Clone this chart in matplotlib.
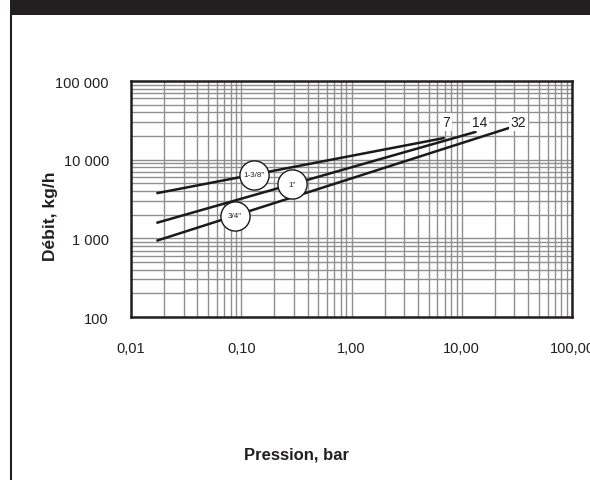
import numpy as np
import matplotlib.pyplot as plt
from matplotlib.patches import Rectangle
from matplotlib.lines import Line2D

plt.rcParams['font.family'] = ['Liberation Sans', 'DejaVu Sans']

# pipe sizes, end points of each line (pressure bar, flow kg/h)
sizes = ['1-3/8"', '1"', '3/4"']
p_start = [0.017, 0.017, 0.017]
p_end = [7.0, 13.6, 31.0]
q_start = [3740, 1570, 930]
q_end = [18900, 22700, 27000]
# label position of the circle on each line (pressure)
p_circle = [0.13, 0.29, 0.088]
end_labels = ['7', '14', '32']
end_label_p = [7.2, 14.5, 32.5]

x_ticks = [0.01, 0.1, 1, 10, 100]
x_tick_labels = ['0,01', '0,10', '1,00', '10,00', '100,00']
y_ticks = [100, 1000, 10000, 100000]
y_tick_labels = ['100', '1 000', '10 000', '100 000']

W, H = 590, 481
fig = plt.figure(figsize=(W / 100, H / 100), dpi=100)
ax = fig.add_axes([131 / W, 1 - 318 / H, (572 - 131) / W, (318 - 82) / H])

ax.set_xscale('log')
ax.set_yscale('log')
ax.set_xlim(0.01, 100)
ax.set_ylim(100, 100000)

ax.grid(True, which='both', color='#8f8f8f', lw=1.0)
ax.set_axisbelow(True)
for s in ax.spines.values():
    s.set_linewidth(1.8)
    s.set_color('#231f20')

ax.set_xticks(x_ticks)
ax.set_xticklabels(x_tick_labels)
ax.set_yticks(y_ticks)
ax.set_yticklabels(y_tick_labels)
ax.tick_params(which='both', length=0, labelsize=10.5, colors='#231f20')
ax.tick_params(axis='x', pad=17)
ax.tick_params(axis='y', pad=16)
for lab in ax.get_xticklabels():
    lab.set_clip_on(False)

for i in range(len(sizes)):
    ax.plot([p_start[i], p_end[i]], [q_start[i], q_end[i]], color='#1a1a1a', lw=1.8,
            solid_capstyle='butt', zorder=3)
    # circle label on the line
    t = (np.log10(p_circle[i]) - np.log10(p_start[i])) / (np.log10(p_end[i]) - np.log10(p_start[i]))
    qc = 10 ** (np.log10(q_start[i]) + t * (np.log10(q_end[i]) - np.log10(q_start[i])))
    ax.plot(p_circle[i], qc, 'o', ms=21, mfc='white', mec='#1a1a1a', mew=1.0, zorder=4)
    ax.text(p_circle[i], qc, sizes[i], fontsize=5.8, ha='center', va='center',
            color='#231f20', zorder=5)
    ax.text(end_label_p[i], 30000, end_labels[i], fontsize=10, ha='center', va='center',
            color='#231f20', zorder=5,
            bbox=dict(boxstyle='square,pad=0.12', fc='white', ec='none'))

# page decoration: black banner and left rule
fig.patches.append(Rectangle((10 / W, 1 - 16 / H), 1, 16 / H, transform=fig.transFigure,
                             fc='#231f20', ec='none'))
fig.lines.append(Line2D([11 / W, 11 / W], [0, 1 - 16 / H], transform=fig.transFigure,
                        color='#231f20', lw=1.5))

fig.text(51 / W, 1 - 216 / H, 'Débit, kg/h', rotation=90, fontsize=12.5, fontweight='bold',
         ha='center', va='center', color='#231f20')
fig.text(297 / W, 1 - 455 / H, 'Pression, bar', fontsize=12, fontweight='bold',
         ha='center', va='center', color='#231f20')

fig.savefig('out.png', dpi=100)
